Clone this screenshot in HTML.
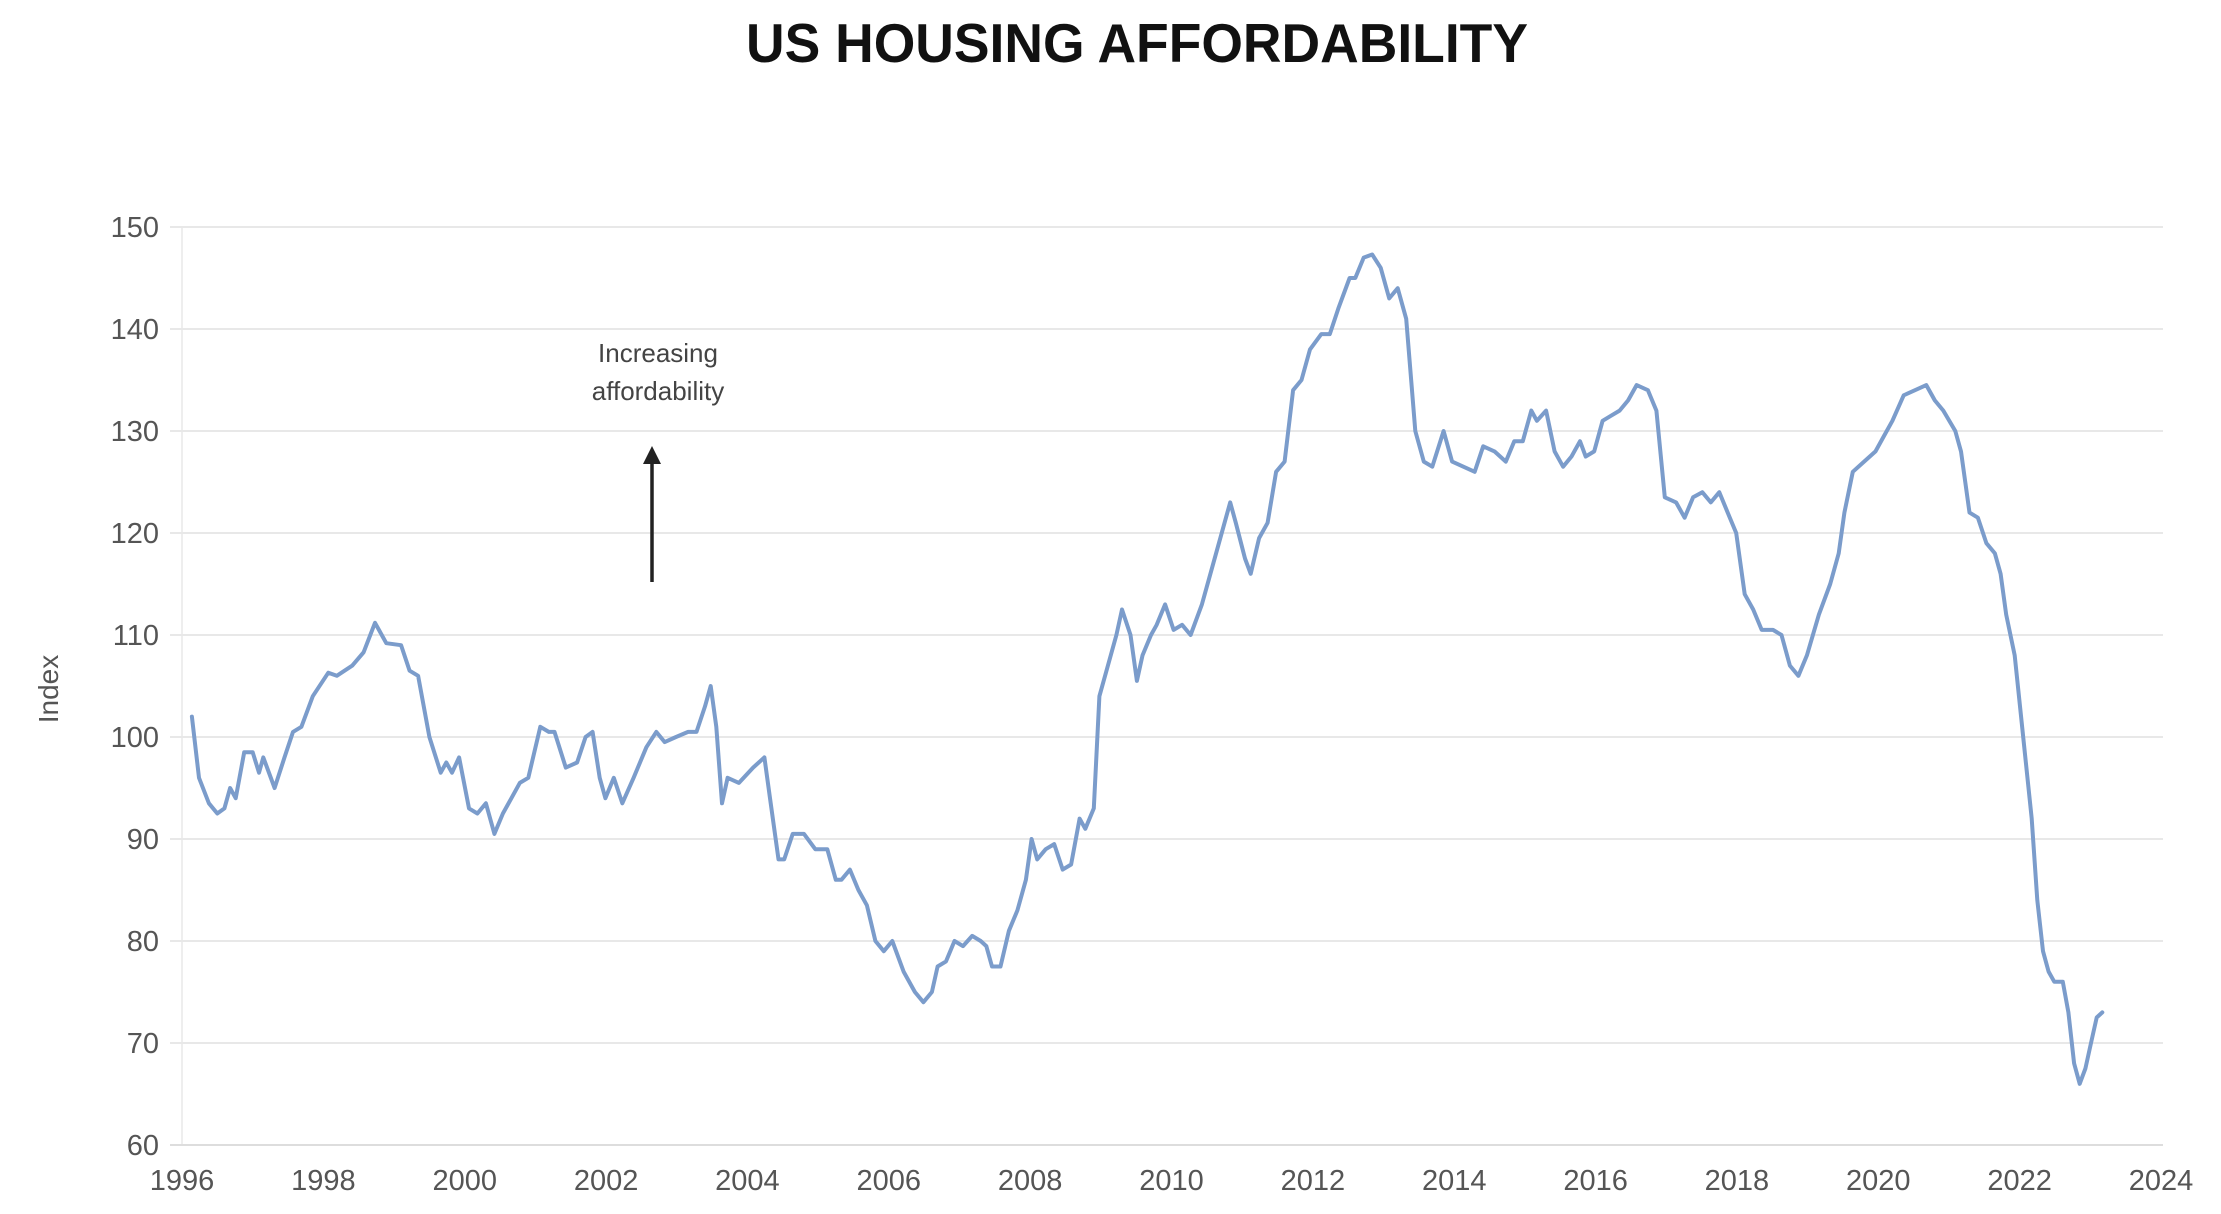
<!DOCTYPE html>
<html><head><meta charset="utf-8"><style>
html,body{margin:0;padding:0;background:#fff;}
svg{display:block;font-family:"Liberation Sans",sans-serif;}
</style></head><body>
<svg id="chart" width="2221" height="1214" viewBox="0 0 2221 1214" xmlns="http://www.w3.org/2000/svg">
<text x="1137" y="62" text-anchor="middle" font-size="55" font-weight="bold" fill="#111" textLength="782" lengthAdjust="spacingAndGlyphs">US HOUSING AFFORDABILITY</text>
<g id="grid"></g>
<g id="yticks"></g>
<g id="xticks"></g>
<text x="0" y="0" transform="translate(58,689) rotate(-90)" text-anchor="middle" font-size="28" fill="#555">Index</text>
<g>
<text x="658" y="362" text-anchor="middle" font-size="26" fill="#444">Increasing</text>
<text x="658" y="400" text-anchor="middle" font-size="26" fill="#444">affordability</text>
<line x1="652" y1="582" x2="652" y2="458" stroke="#222" stroke-width="3.5"/>
<polygon points="652,446 643,464 661,464" fill="#222"/>
</g>
<path id="series" fill="none" stroke="#7b9ccb" stroke-width="4" stroke-linejoin="round" stroke-linecap="round"/>
</svg>
<script>
const yTicks=[60,70,80,90,100,110,120,130,140,150];
const xTickYears=[1996,1998,2000,2002,2004,2006,2008,2010,2012,2014,2016,2018,2020,2022,2024];
const years=[1996.14,1996.24,1996.38,1996.5,1996.6,1996.68,1996.76,1996.88,1997.0,1997.09,1997.15,1997.31,1997.45,1997.57,1997.69,1997.85,1998.07,1998.19,1998.41,1998.57,1998.73,1998.89,1999.1,1999.22,1999.34,1999.5,1999.66,1999.74,1999.82,1999.92,2000.06,2000.18,2000.3,2000.42,2000.54,2000.66,2000.78,2000.9,2001.07,2001.19,2001.27,2001.43,2001.59,2001.71,2001.81,2001.91,2001.99,2002.11,2002.23,2002.39,2002.57,2002.71,2002.83,2002.99,2003.16,2003.28,2003.4,2003.48,2003.56,2003.64,2003.72,2003.88,2004.08,2004.24,2004.32,2004.44,2004.52,2004.64,2004.8,2004.96,2005.13,2005.25,2005.33,2005.45,2005.57,2005.69,2005.81,2005.93,2006.05,2006.21,2006.37,2006.49,2006.61,2006.69,2006.81,2006.93,2007.05,2007.18,2007.3,2007.38,2007.46,2007.58,2007.7,2007.82,2007.94,2008.02,2008.1,2008.22,2008.34,2008.46,2008.58,2008.7,2008.78,2008.9,2008.98,2009.1,2009.22,2009.3,2009.42,2009.51,2009.59,2009.71,2009.79,2009.91,2010.03,2010.15,2010.27,2010.43,2010.55,2010.67,2010.83,2010.91,2011.04,2011.12,2011.24,2011.36,2011.48,2011.6,2011.72,2011.84,2011.96,2012.12,2012.24,2012.36,2012.52,2012.6,2012.72,2012.84,2012.96,2013.08,2013.2,2013.32,2013.45,2013.57,2013.69,2013.85,2013.97,2014.13,2014.29,2014.41,2014.57,2014.73,2014.85,2014.97,2015.09,2015.17,2015.3,2015.42,2015.54,2015.66,2015.78,2015.86,2015.98,2016.1,2016.22,2016.34,2016.46,2016.58,2016.74,2016.86,2016.98,2017.14,2017.26,2017.38,2017.51,2017.63,2017.75,2017.87,2017.99,2018.11,2018.23,2018.35,2018.51,2018.63,2018.75,2018.87,2018.99,2019.16,2019.32,2019.44,2019.52,2019.64,2019.8,2019.96,2020.08,2020.2,2020.36,2020.52,2020.68,2020.8,2020.92,2021.09,2021.17,2021.29,2021.41,2021.53,2021.65,2021.73,2021.81,2021.93,2022.05,2022.17,2022.25,2022.33,2022.41,2022.49,2022.61,2022.69,2022.77,2022.85,2022.93,2023.01,2023.09,2023.17];
const values=[102,96,93.5,92.5,93,95,94,98.5,98.5,96.5,98,95,98,100.5,101,104,106.3,106,107,108.3,111.2,109.2,109,106.5,106,100,96.5,97.5,96.5,98,93,92.5,93.5,90.5,92.5,94,95.5,96,101,100.5,100.5,97,97.5,100,100.5,96,94,96,93.5,96,99,100.5,99.5,100,100.5,100.5,103,105,101,93.5,96,95.5,97,98,94,88,88,90.5,90.5,89,89,86,86,87,85,83.5,80,79,80,77,75,74,75,77.5,78,80,79.5,80.5,80,79.5,77.5,77.5,81,83,86,90,88,89,89.5,87,87.5,92,91,93,104,107,110,112.5,110,105.5,108,110,111,113,110.5,111,110,113,116,119,123,121,117.5,116,119.5,121,126,127,134,135,138,139.5,139.5,142,145,145,147,147.3,146,143,144,141,130,127,126.5,130,127,126.5,126,128.5,128,127,129,129,132,131,132,128,126.5,127.5,129,127.5,128,131,131.5,132,133,134.5,134,132,123.5,123,121.5,123.5,124,123,124,122,120,114,112.5,110.5,110.5,110,107,106,108,112,115,118,122,126,127,128,129.5,131,133.5,134,134.5,133,132,130,128,122,121.5,119,118,116,112,108,100,92,84,79,77,76,76,73,68,66,67.5,70,72.5,73];
const X0=182,X1=2161,Y60=1145,Y150=227;
function xs(y){return X0+(y-1996)*(X1-X0)/28;}
function ys(v){return Y60-(v-60)*(Y60-Y150)/90;}
const NS="http://www.w3.org/2000/svg";
const grid=document.getElementById('grid'),yt=document.getElementById('yticks'),xt=document.getElementById('xticks');
const vline=document.createElementNS(NS,'line');


vline.setAttribute('x1',X0);vline.setAttribute('x2',X0);vline.setAttribute('y1',Y150);vline.setAttribute('y2',Y60);
vline.setAttribute('stroke','#eeeeee');vline.setAttribute('stroke-width','2');grid.appendChild(vline);
yTicks.forEach(v=>{
  const l=document.createElementNS(NS,'line');
  
  
  l.setAttribute('x1',170);l.setAttribute('x2',2163);l.setAttribute('y1',ys(v));l.setAttribute('y2',ys(v));
  l.setAttribute('stroke',v===60?'#dddddd':'#e8e8e8');l.setAttribute('stroke-width','2');grid.appendChild(l);
  const t=document.createElementNS(NS,'text');
  
  
  t.setAttribute('x',159);t.setAttribute('y',ys(v)+10);t.setAttribute('text-anchor','end');
  t.setAttribute('font-size','29');t.setAttribute('fill','#555');t.textContent=v;yt.appendChild(t);
});
xTickYears.forEach(y=>{
  const t=document.createElementNS(NS,'text');
  
  
  t.setAttribute('x',xs(y));t.setAttribute('y',1190);t.setAttribute('text-anchor','middle');
  t.setAttribute('font-size','29');t.setAttribute('fill','#555');t.textContent=y;xt.appendChild(t);
});
let d='';
years.forEach((y,i)=>{d+=(i?'L':'M')+xs(y).toFixed(1)+','+ys(values[i]).toFixed(1);});
document.getElementById('series').setAttribute('d',d);
</script>
</body></html>
